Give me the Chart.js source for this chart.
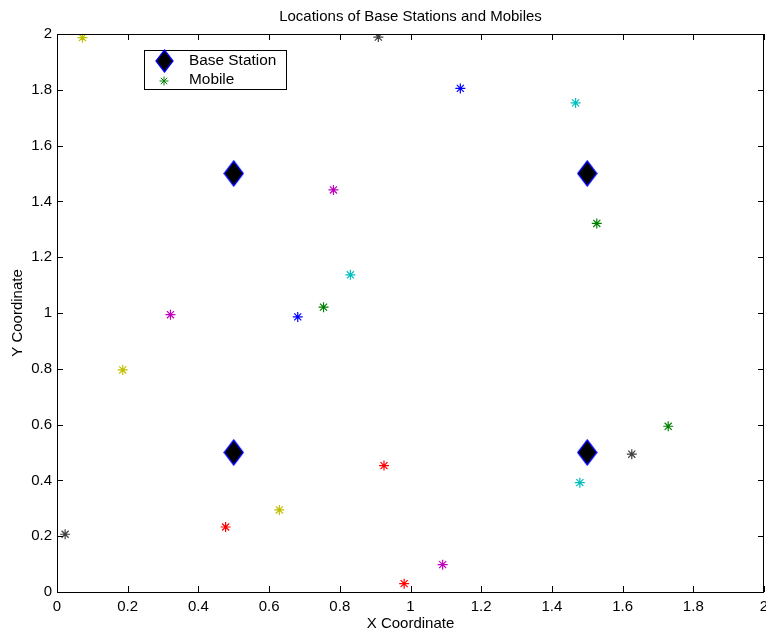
<!DOCTYPE html>
<html>
<head>
<meta charset="utf-8">
<script src="https://cdn.jsdelivr.net/npm/chart.js@4.4.1/dist/chart.umd.min.js"></script>
<style>
html,body{margin:0;padding:0;background:#fff;}
#wrap{width:766px;height:635px;position:relative;}
</style>
</head>
<body>
<div id="wrap"><canvas id="c" width="766" height="635"></canvas></div>
<script>
// ---- data ----
const titleText = 'Locations of Base Stations and Mobiles';
const xTitle = 'X Coordinate';
const yTitle = 'Y Coordinate';
const xTickLabels = ['0','0.2','0.4','0.6','0.8','1','1.2','1.4','1.6','1.8','2'];
const yTickLabels = ['0','0.2','0.4','0.6','0.8','1','1.2','1.4','1.6','1.8','2'];

const bsX = [0.5, 1.5, 0.5, 1.5];
const bsY = [1.5, 1.5, 0.5, 0.5];

const mobX = [1.527, 0.925, 1.467, 0.782, 0.072, 0.909, 1.141,
              0.754, 0.477, 0.830, 0.321, 0.186, 1.626, 0.681,
              1.729, 0.982, 1.479, 1.091, 0.629, 0.023];
const mobY = [1.321, 0.453, 1.753, 1.441, 1.987, 1.989, 1.805,
              1.021, 0.233, 1.137, 0.994, 0.796, 0.494, 0.986,
              0.594, 0.030, 0.392, 0.098, 0.294, 0.207];
const mobColor = ['#008000','#ff0000','#00bfbf','#bf00bf','#bfbf00','#404040','#0000ff',
                  '#008000','#ff0000','#00bfbf','#bf00bf','#bfbf00','#404040','#0000ff',
                  '#008000','#ff0000','#00bfbf','#bf00bf','#bfbf00','#404040'];

// ---- diamond marker ----
function makeDiamond(w, h) {
  const cv = document.createElement('canvas');
  cv.width = w; cv.height = h;
  const g = cv.getContext('2d');
  g.beginPath();
  g.moveTo(w/2, 1);
  g.lineTo(w-1, h/2);
  g.lineTo(w/2, h-1);
  g.lineTo(1, h/2);
  g.closePath();
  g.fillStyle = '#000';
  g.fill();
  g.strokeStyle = '#0000ff';
  g.lineWidth = 1.3;
  g.stroke();
  return cv;
}
const diamond = makeDiamond(21, 27);
const diamondLegend = makeDiamond(19, 24);

const FONT = '"Liberation Sans", Arial, Helvetica, sans-serif';
const FS = 15;

const decor = {
  id: 'decor',
  afterDatasetsDraw(chart) {
    const ctx = chart.ctx;
    const a = chart.chartArea;
    const xs = chart.scales.x, ys = chart.scales.y;
    ctx.save();
    ctx.strokeStyle = '#000';
    ctx.lineWidth = 1;
    // box
    ctx.strokeRect(Math.round(a.left) + 0.5, Math.round(a.top) + 0.5,
                   Math.round(a.right - a.left) - 1, Math.round(a.bottom - a.top));
    // inward ticks, mirrored
    const tl = 6;
    ctx.beginPath();
    xs.ticks.forEach(t => {
      const px = Math.round(xs.getPixelForValue(t.value)) + 0.5;
      ctx.moveTo(px, a.bottom); ctx.lineTo(px, a.bottom - tl);
      ctx.moveTo(px, a.top); ctx.lineTo(px, a.top + tl);
    });
    ys.ticks.forEach(t => {
      const py = Math.round(ys.getPixelForValue(t.value)) + 0.5;
      ctx.moveTo(a.left, py); ctx.lineTo(a.left + tl, py);
      ctx.moveTo(a.right, py); ctx.lineTo(a.right - tl, py);
    });
    ctx.stroke();

    // titles
    ctx.fillStyle = '#000';
    ctx.font = FS + 'px ' + FONT;
    ctx.textAlign = 'center';
    ctx.textBaseline = 'middle';
    ctx.fillText(titleText, (a.left + a.right) / 2, 17);
    ctx.fillText(xTitle, (a.left + a.right) / 2, 624);
    ctx.save();
    ctx.translate(18, (a.top + a.bottom) / 2);
    ctx.rotate(-Math.PI / 2);
    ctx.fillText(yTitle, 0, 0);
    ctx.restore();

    // legend
    const lx = 144, ly = 50, lw = 143, lh = 40;
    ctx.fillStyle = '#fff';
    ctx.fillRect(lx, ly, lw, lh);
    ctx.strokeRect(lx + 0.5, ly + 0.5, lw - 1, lh - 1);
    Chart.helpers.drawPoint(ctx, {pointStyle: diamondLegend, radius: 9, rotation: 0}, 164.5, 61);
    ctx.strokeStyle = mobColor[0];
    ctx.fillStyle = mobColor[0];
    ctx.lineWidth = 1;
    Chart.helpers.drawPoint(ctx, {pointStyle: 'star', radius: 4.5, rotation: 0, borderWidth: 1}, 164, 81);
    ctx.fillStyle = '#000';
    ctx.textAlign = 'left';
    ctx.font = '15.4px ' + FONT;
    ctx.fillText(chart.data.datasets[0].label, 189, 61);
    ctx.fillText(chart.data.datasets[1].label, 189, 80);
    ctx.restore();
  }
};

new Chart(document.getElementById('c'), {
  type: 'scatter',
  data: {
    datasets: [
      {
        label: 'Base Station',
        data: bsX.map((x, i) => ({x: x, y: bsY[i]})),
        pointStyle: diamond,
        pointRadius: 13,
        pointHoverRadius: 13,
        order: 1
      },
      {
        label: 'Mobile',
        data: mobX.map((x, i) => ({x: x, y: mobY[i]})),
        pointStyle: 'star',
        pointRadius: 5,
        pointHoverRadius: 5,
        pointBorderWidth: 1.2,
        pointBorderColor: mobColor,
        pointBackgroundColor: mobColor,
        order: 0
      }
    ]
  },
  options: {
    responsive: false,
    animation: false,
    events: [],
    layout: {autoPadding: false, padding: {left: 0, right: 2, top: 34, bottom: 0}},
    plugins: {legend: {display: false}, title: {display: false}, tooltip: {enabled: false}},
    scales: {
      x: {
        type: 'linear', min: 0, max: 2,
        grid: {display: false, drawTicks: false},
        border: {display: false},
        ticks: {stepSize: 0.2, padding: 6, color: '#000', maxRotation: 0, autoSkip: false,
                font: {family: FONT, size: FS},
                callback: (v, i) => xTickLabels[i]},
        afterFit: s => { s.height = 43; s.paddingLeft = 0; s.paddingRight = 0; }
      },
      y: {
        type: 'linear', min: 0, max: 2,
        grid: {display: false, drawTicks: false},
        border: {display: false},
        ticks: {stepSize: 0.2, padding: 5, color: '#000', autoSkip: false,
                font: {family: FONT, size: FS},
                callback: (v, i) => yTickLabels[i]},
        afterFit: s => { s.width = 57; s.paddingTop = 0; s.paddingBottom = 0; }
      }
    }
  },
  plugins: [decor]
});
</script>
</body>
</html>
